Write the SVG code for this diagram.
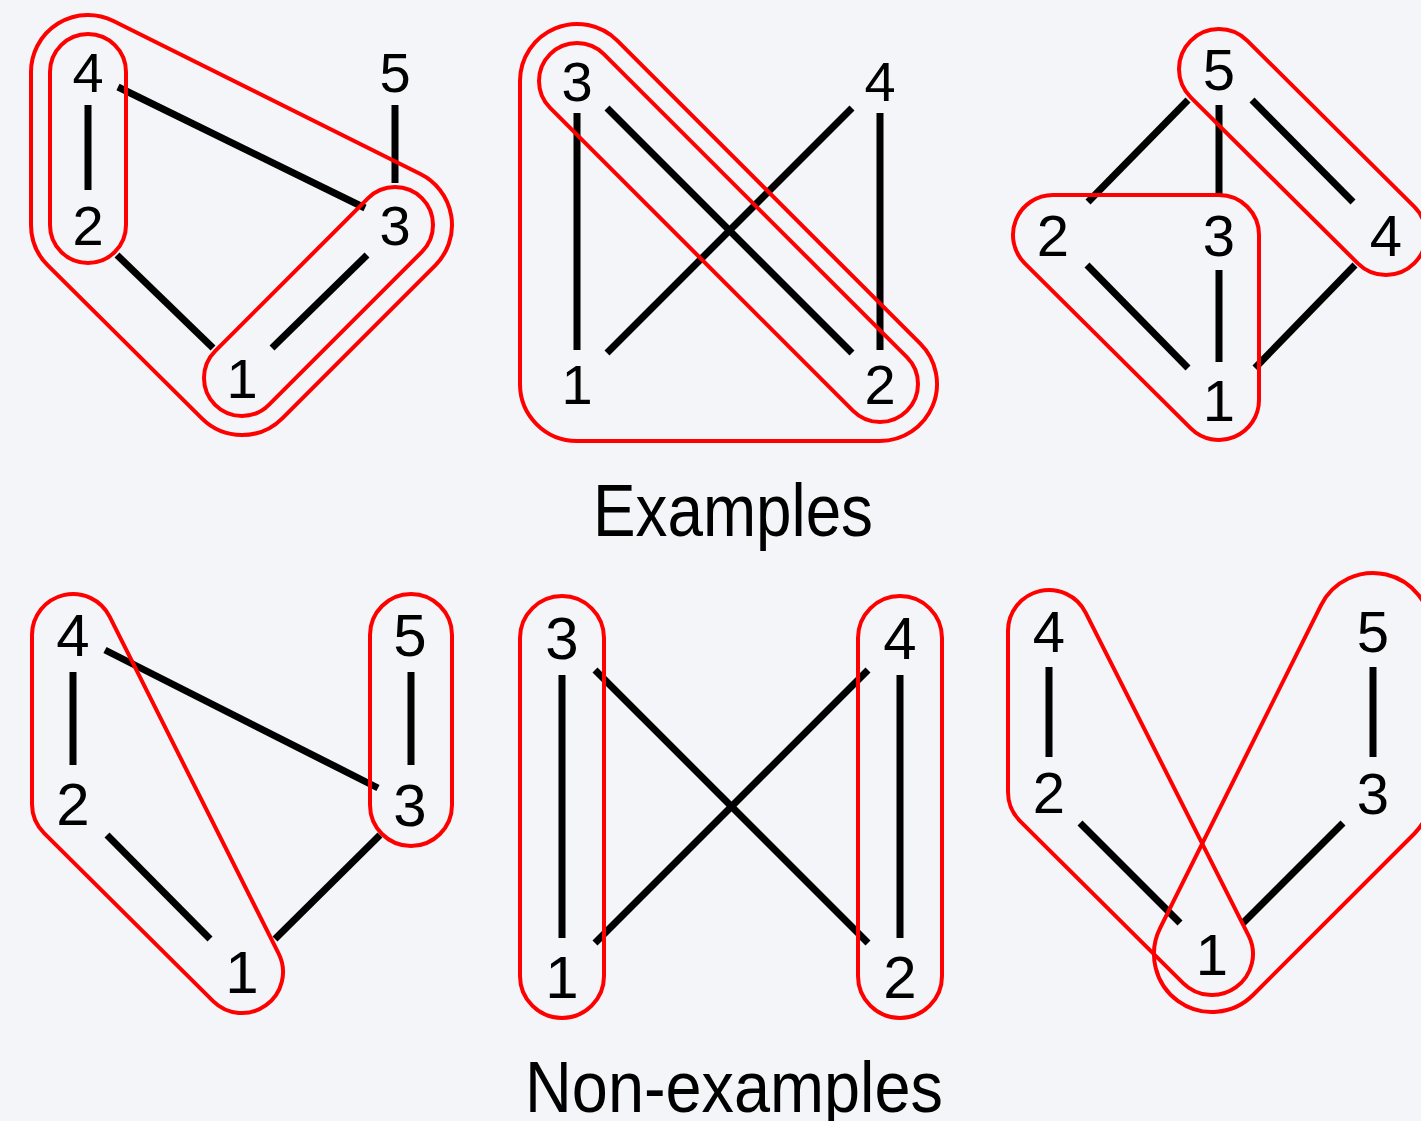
<svg xmlns="http://www.w3.org/2000/svg" width="1421" height="1121" viewBox="0 0 1421 1121">
<style>
.bg{fill:#f4f5f9}
.lbl{font-family:"Liberation Sans",Arial,sans-serif;fill:#000;text-anchor:middle}
.s56{font-size:56px}.s58{font-size:58px}.s60{font-size:60px}
.e{stroke:#000;stroke-width:7;stroke-linecap:butt;fill:none}
.h{stroke:#ff0000;stroke-width:4;fill:none}
.title{font-family:"Liberation Sans",Arial,sans-serif;fill:#000;text-anchor:middle}
</style>
<rect class="bg" x="0" y="0" width="1421" height="1121"/>

<!-- Graph 1 -->
<g id="g1">
  <g id="g1-connectors">
    <line class="e" x1="88" y1="105" x2="88" y2="190"/>
    <line class="e" x1="118" y1="87" x2="365" y2="208"/>
    <line class="e" x1="395" y1="105" x2="395" y2="183"/>
    <line class="e" x1="117" y1="255" x2="213" y2="348"/>
    <line class="e" x1="367" y1="255" x2="272" y2="348"/>
  </g>
  <g id="g1-n4"><text class="lbl s56" x="88" y="92">4</text></g>
  <g id="g1-n2"><text class="lbl s56" x="88" y="245">2</text></g>
  <g id="g1-n1"><text class="lbl s56" x="242" y="398">1</text></g>
  <g id="g1-n3"><text class="lbl s56" x="395" y="245">3</text></g>
  <g id="g1-n5"><text class="lbl s56" x="395" y="92">5</text></g>
  <g id="g1-hulls">
    <rect class="h" x="50" y="34" width="76" height="229" rx="38"/>
    <rect class="h" x="172.3" y="263.5" width="292.4" height="76" rx="38" transform="rotate(-45 318.5 301.5)"/>
    <path class="h" d="M113.43 20.99 L420.43 173.99 A57 57 0 0 1 435.31 265.31 L282.31 418.31 A57 57 0 0 1 201.83 418.44 L47.83 265.44 A57 57 0 0 1 31 225 L31 72 A57 57 0 0 1 113.43 20.99 Z"/>
  </g>
</g>

<!-- Graph 2 -->
<g id="g2">
  <g id="g2-connectors">
    <line class="e" x1="577" y1="113" x2="577" y2="350"/>
    <line class="e" x1="880" y1="113" x2="880" y2="350"/>
    <line class="e" x1="607" y1="108" x2="852" y2="353"/>
    <line class="e" x1="852" y1="108" x2="607" y2="353"/>
  </g>
  <g id="g2-n3"><text class="lbl s56" x="577" y="101">3</text></g>
  <g id="g2-n4"><text class="lbl s56" x="880" y="101">4</text></g>
  <g id="g2-n1"><text class="lbl s56" x="577" y="404">1</text></g>
  <g id="g2-n2"><text class="lbl s56" x="880" y="404">2</text></g>
  <g id="g2-hulls">
    <rect class="h" x="476.25" y="194.5" width="504.5" height="76" rx="38" transform="rotate(45 728.5 232.5)"/>
    <path class="h" d="M617.31 40.69 L920.31 343.69 A57 57 0 0 1 880 441 L577 441 A57 57 0 0 1 520 384 L520 81 A57 57 0 0 1 617.31 40.69 Z"/>
  </g>
</g>

<!-- Graph 3 -->
<g id="g3">
  <g id="g3-connectors">
    <line class="e" x1="1188" y1="100" x2="1088" y2="202"/>
    <line class="e" x1="1219" y1="105" x2="1219" y2="197"/>
    <line class="e" x1="1252" y1="100" x2="1353" y2="202"/>
    <line class="e" x1="1087" y1="265" x2="1188" y2="368"/>
    <line class="e" x1="1219" y1="270" x2="1219" y2="362"/>
    <line class="e" x1="1355" y1="265" x2="1255" y2="368"/>
  </g>
  <g id="g3-n5"><text class="lbl s58" x="1219" y="90">5</text></g>
  <g id="g3-n2"><text class="lbl s58" x="1053" y="256">2</text></g>
  <g id="g3-n3"><text class="lbl s58" x="1219" y="256">3</text></g>
  <g id="g3-n4"><text class="lbl s58" x="1386" y="256">4</text></g>
  <g id="g3-n1"><text class="lbl s58" x="1219" y="421">1</text></g>
  <g id="g3-hulls">
    <rect class="h" x="1144.75" y="112" width="315.5" height="80" rx="40" transform="rotate(44.83 1302.5 152)"/>
    <path class="h" d="M1053 195 L1219 195 A40 40 0 0 1 1259 235 L1259 400 A40 40 0 0 1 1190.8 428.37 L1024.8 263.37 A40 40 0 0 1 1053 195 Z"/>
  </g>
</g>

<text class="title" x="733" y="536" font-size="75" textLength="280" lengthAdjust="spacingAndGlyphs">Examples</text>

<!-- Graph 4 -->
<g id="g4">
  <g id="g4-connectors">
    <line class="e" x1="73" y1="672" x2="73" y2="765"/>
    <line class="e" x1="105" y1="650" x2="378" y2="788"/>
    <line class="e" x1="411" y1="672" x2="411" y2="765"/>
    <line class="e" x1="107" y1="835" x2="210" y2="939"/>
    <line class="e" x1="380" y1="835" x2="275" y2="939"/>
  </g>
  <g id="g4-n4"><text class="lbl s60" x="73" y="656">4</text></g>
  <g id="g4-n2"><text class="lbl s60" x="73" y="825">2</text></g>
  <g id="g4-n1"><text class="lbl s60" x="242" y="993">1</text></g>
  <g id="g4-n5"><text class="lbl s60" x="410" y="656">5</text></g>
  <g id="g4-n3"><text class="lbl s60" x="410" y="826">3</text></g>
  <g id="g4-hulls">
    <rect class="h" x="370" y="594" width="82" height="252" rx="41"/>
    <path class="h" d="M109.65 616.62 L278.65 953.62 A41 41 0 0 1 213.09 1001.08 L44.09 833.08 A41 41 0 0 1 32 804 L32 635 A41 41 0 0 1 109.65 616.62 Z"/>
  </g>
</g>

<!-- Graph 5 -->
<g id="g5">
  <g id="g5-connectors">
    <line class="e" x1="562" y1="675" x2="562" y2="938"/>
    <line class="e" x1="900" y1="675" x2="900" y2="938"/>
    <line class="e" x1="595" y1="670" x2="868" y2="943"/>
    <line class="e" x1="868" y1="670" x2="595" y2="943"/>
  </g>
  <g id="g5-n3"><text class="lbl s60" x="562" y="659">3</text></g>
  <g id="g5-n4"><text class="lbl s60" x="900" y="659">4</text></g>
  <g id="g5-n1"><text class="lbl s60" x="562" y="998">1</text></g>
  <g id="g5-n2"><text class="lbl s60" x="900" y="998">2</text></g>
  <g id="g5-hulls">
    <rect class="h" x="520" y="596" width="84" height="422" rx="42"/>
    <rect class="h" x="858" y="596" width="84" height="422" rx="42"/>
  </g>
</g>

<!-- Graph 6 -->
<g id="g6">
  <g id="g6-connectors">
    <line class="e" x1="1049" y1="667" x2="1049" y2="757"/>
    <line class="e" x1="1373" y1="667" x2="1373" y2="757"/>
    <line class="e" x1="1080" y1="823" x2="1180" y2="923"/>
    <line class="e" x1="1343" y1="823" x2="1243" y2="923"/>
  </g>
  <g id="g6-n4"><text class="lbl s58" x="1049" y="652">4</text></g>
  <g id="g6-n2"><text class="lbl s58" x="1049" y="813">2</text></g>
  <g id="g6-n1"><text class="lbl s58" x="1212" y="975">1</text></g>
  <g id="g6-n5"><text class="lbl s58" x="1373" y="652">5</text></g>
  <g id="g6-n3"><text class="lbl s58" x="1373" y="814">3</text></g>
  <g id="g6-hulls">
    <path class="h" d="M1085.60 612.53 L1248.60 935.53 A41 41 0 0 1 1183.10 983.08 L1020.10 821.08 A41 41 0 0 1 1008 792 L1008 631 A41 41 0 0 1 1085.60 612.53 Z"/>
    <path class="h" d="M1431 631 L1431 793 A58 58 0 0 1 1414.01 834.01 L1253.01 995.01 A58 58 0 0 1 1160.09 928.13 L1321.09 605.13 A58 58 0 0 1 1431 631 Z"/>
  </g>
</g>

<text class="title" x="734" y="1112" font-size="73" textLength="418" lengthAdjust="spacingAndGlyphs">Non-examples</text>
</svg>
